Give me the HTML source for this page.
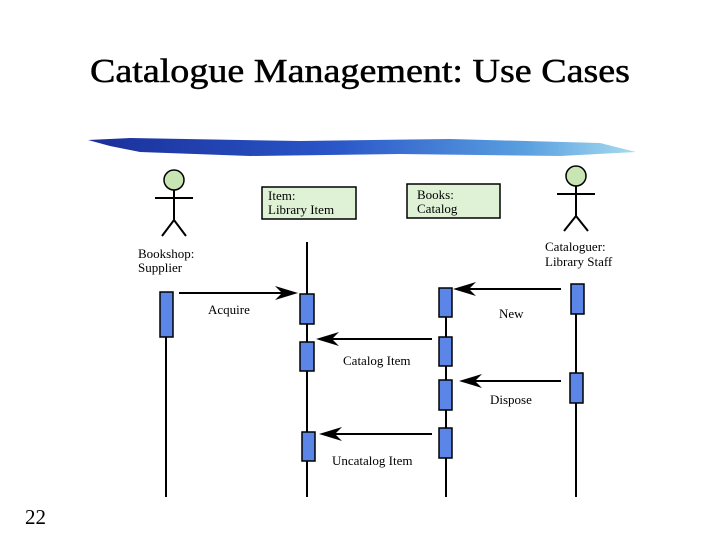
<!DOCTYPE html>
<html><head><style>
body{margin:0;width:720px;height:540px;background:#fff;overflow:hidden;font-family:"Liberation Serif",serif}
</style></head><body>
<svg width="720" height="540" xmlns="http://www.w3.org/2000/svg" font-family="Liberation Serif, serif">
<defs>
<linearGradient id="g" x1="0" x2="1" y1="0" y2="0">
<stop offset="0" stop-color="#1a2f9a"/><stop offset="0.45" stop-color="#2a56c8"/><stop offset="0.8" stop-color="#5aa0e0"/><stop offset="1" stop-color="#a8dcf0"/>
</linearGradient>
</defs>
<text x="90" y="82" font-size="34" textLength="540" lengthAdjust="spacingAndGlyphs" stroke="#000" stroke-width="0.5">Catalogue Management: Use Cases</text>
<path d="M88 140 L130 138 L300 141 L450 139 L600 143 L636 152 L560 156 L400 154 L250 156 L140 152 L110 146 Z" fill="url(#g)"/>
<text x="25" y="524" font-size="21">22</text>
<g stroke="#000" stroke-width="2" fill="none">
<circle cx="174" cy="180" r="10" fill="#c8e6b4" stroke-width="1.5"/>
<line x1="174" y1="190" x2="174" y2="220"/><line x1="155" y1="198" x2="193" y2="198"/>
<path d="M162 236 L174 220 L186 236"/>
<circle cx="576" cy="176" r="10" fill="#c8e6b4" stroke-width="1.5"/>
<line x1="576" y1="186" x2="576" y2="216"/><line x1="557" y1="194" x2="595" y2="194"/>
<path d="M564 231 L576 216 L588 231"/>
<line x1="166" y1="292" x2="166" y2="497"/>
<line x1="307" y1="242" x2="307" y2="497"/>
<line x1="446" y1="290" x2="446" y2="497"/>
<line x1="576" y1="284" x2="576" y2="497"/>
</g>
<rect x="262" y="187" width="94" height="32" fill="#dff2d6" stroke="#000" stroke-width="1.5"/>
<rect x="407" y="184" width="93" height="34" fill="#dff2d6" stroke="#000" stroke-width="1.5"/>
<g font-size="13">
<text x="268" y="200">Item:</text><text x="268" y="214">Library Item</text>
<text x="417" y="199">Books:</text><text x="417" y="213">Catalog</text>
<text x="138" y="258">Bookshop:</text><text x="138" y="272">Supplier</text>
<text x="545" y="251">Cataloguer:</text><text x="545" y="266">Library Staff</text>
<text x="208" y="314">Acquire</text>
<text x="499" y="318">New</text>
<text x="343" y="365">Catalog Item</text>
<text x="490" y="404">Dispose</text>
<text x="332" y="465">Uncatalog Item</text>
</g>
<g fill="#5b86e8" stroke="#000" stroke-width="1.5">
<rect x="160" y="292" width="13" height="45"/>
<rect x="300" y="294" width="14" height="30"/>
<rect x="300" y="342" width="14" height="29"/>
<rect x="302" y="432" width="13" height="29"/>
<rect x="439" y="288" width="13" height="29"/>
<rect x="439" y="337" width="13" height="29"/>
<rect x="439" y="380" width="13" height="30"/>
<rect x="439" y="428" width="13" height="30"/>
<rect x="571" y="284" width="13" height="30"/>
<rect x="570" y="373" width="13" height="30"/>
</g>
<g stroke="#000" stroke-width="2">
<line x1="179" y1="293" x2="285" y2="293"/>
<line x1="561" y1="289" x2="465" y2="289"/>
<line x1="432" y1="339" x2="328" y2="339"/>
<line x1="561" y1="381" x2="471" y2="381"/>
<line x1="432" y1="434" x2="331" y2="434"/>
</g>
<g fill="#000">
<path d="M298 293 L275 286 L282 293 L275 300 Z"/>
<path d="M453 289 L476 282 L469 289 L476 296 Z"/>
<path d="M316 339 L339 332 L332 339 L339 346 Z"/>
<path d="M459 381 L482 374 L475 381 L482 388 Z"/>
<path d="M319 434 L342 427 L335 434 L342 441 Z"/>
</g>
</svg>
</body></html>
